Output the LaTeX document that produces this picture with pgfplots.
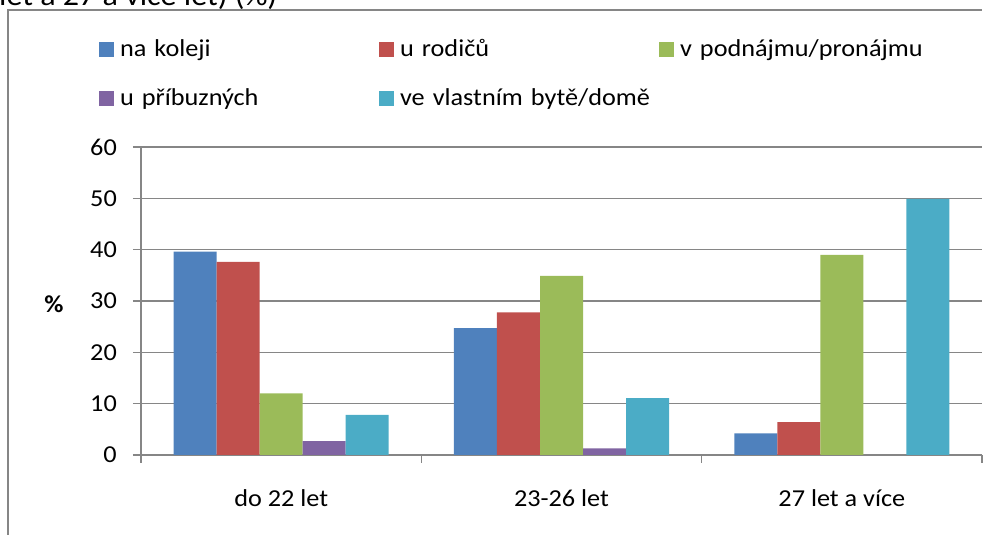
\documentclass[border=0pt]{standalone}
\usepackage{fontspec}
\setmainfont{Carlito}[FakeStretch=1.08]
\usepackage{pgfplots}
\pgfplotsset{compat=1.18}
\definecolor{c1}{HTML}{4F81BD}
\definecolor{c2}{HTML}{C0504D}
\definecolor{c3}{HTML}{9BBB59}
\definecolor{c4}{HTML}{8064A2}
\definecolor{c5}{HTML}{4BACC6}
\definecolor{gridgray}{HTML}{868686}
\pgfplotsset{
  mylegend/.style={legend image code/.code={\fill[##1,draw=none] (0pt,-6.5pt) rectangle (15pt,8.5pt);}},
  mybar/.style={ybar, bar width=0.1534, draw=none, mylegend},
}
\begin{document}
\fontsize{24.3pt}{29pt}\selectfont
\begin{tikzpicture}[x=1pt,y=1pt]
\useasboundingbox (0,0) rectangle (997,535);
\node[anchor=base west, inner sep=0pt, font=\fontsize{29.7pt}{36pt}\selectfont] at (-1,529.5) {let a 27 a více let) (\%)};
\draw[gridgray, line width=1.3pt] (8,0) -- (8,525) -- (982,525);
\begin{axis}[
  at={(141pt,80pt)}, anchor=south west,
  scale only axis, width=841pt, height=308pt,
  xmin=-0.5, xmax=2.5, ymin=0, ymax=60,
  axis x line*=bottom, axis y line*=left,
  axis line style={gridgray, line width=1.3pt},
  ymajorgrids, grid style={gridgray, line width=1.3pt},
  tick style={gridgray, line width=1.3pt},
  tick align=outside, major tick length=8pt,
  ytick={0,10,...,60},
  /pgf/number format/assume math mode=true,
  yticklabel style={anchor=east, inner sep=0pt, xshift=-16pt},
  xtick={-0.5,0.5,1.5,2.5}, xticklabels={},
  extra x ticks={0,1,2},
  extra x tick labels={do 22 let,23-26 let,27 let a více},
  extra x tick style={major tick length=0pt, xticklabel style={anchor=base, inner sep=0pt, yshift=-52pt}},
  every axis y label/.style={at={(axis description cs:-0.1035,0.4903)}, anchor=center},
  ylabel={\textbf{\%}},
  legend columns=3,
  legend cell align=left,
  legend style={draw=none, fill=none, inner sep=0pt, outer sep=0pt,
    at={(-0.0499,1.3523)}, anchor=north west, row sep=25pt, column sep=0pt,
    nodes={inner sep=0pt, text height=18pt, text depth=6pt, text width=259pt, align=left},
    /tikz/every odd column/.append style={column sep=6pt}},
]
\addplot[mybar, fill=c1, bar shift=-0.3068] coordinates {(0,39.6) (1,24.7) (2,4.2)};
\addplot[mybar, fill=c2, bar shift=-0.1534] coordinates {(0,37.6) (1,27.8) (2,6.4)};
\addplot[mybar, fill=c3, bar shift=0] coordinates {(0,12.0) (1,34.9) (2,39.0)};
\addplot[mybar, fill=c4, bar shift=0.1534] coordinates {(0,2.7) (1,1.3)};
\addplot[mybar, fill=c5, bar shift=0.3068] coordinates {(0,7.8) (1,11.1) (2,49.9)};
\legend{na koleji,u rodičů,v podnájmu/pronájmu,u příbuzných,ve vlastním bytě/domě}
\end{axis}
\end{tikzpicture}
\end{document}
